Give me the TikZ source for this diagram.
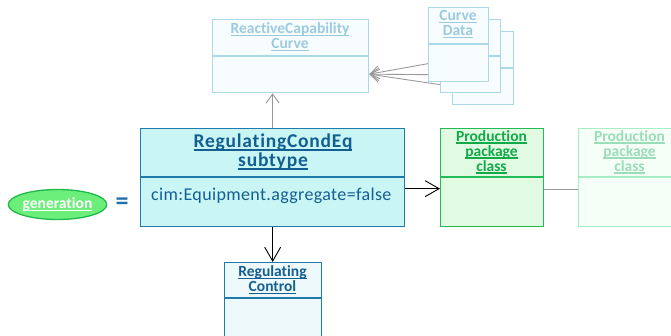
\documentclass[tikz,border=0pt]{standalone}
\usepackage{fontspec}
\setmainfont[Ligatures=NoCommon]{Carlito}
\newfontfamily\bigfont[LetterSpace=4,Ligatures=NoCommon]{Carlito}
\newfontfamily\attrfont[LetterSpace=2,Ligatures=NoCommon]{Carlito}
\usetikzlibrary{arrows.meta,shapes.geometric}
\newcommand\myul[1]{\leavevmode\setbox0=\hbox{#1}\rlap{\rule[-0.17em]{\wd0}{0.085em}}\box0}
\definecolor{rceFill}{HTML}{C9F5F5}
\definecolor{rceLine}{HTML}{1F7BAA}
\definecolor{rceText}{HTML}{135F92}
\definecolor{rconFill}{HTML}{EEF9FC}
\definecolor{fadeLine}{HTML}{A9D8E8}
\definecolor{fadeText}{HTML}{9CCBE0}
\definecolor{fadeFill}{HTML}{F7FCFE}
\definecolor{prodLine}{HTML}{22BB55}
\definecolor{prodFill}{HTML}{E1FBE3}
\definecolor{prodText}{HTML}{12A948}
\definecolor{pfLine}{HTML}{A6EEC6}
\definecolor{pfText}{HTML}{9ADDB8}
\definecolor{pfFill}{HTML}{F5FFF8}
\definecolor{genFill}{HTML}{6CEF7A}
\definecolor{genLine}{HTML}{1FB84A}
\definecolor{eqCol}{HTML}{1F6FA8}
\definecolor{arrGray}{HTML}{999999}
\tikzset{
  umlbox/.style={draw, rectangle, anchor=north west, inner sep=0pt, line width=1.3pt},
  hdr/.style={align=center, inner sep=0pt, font=\bfseries\fontsize{15.5}{15}\selectfont},
  bighdr/.style={align=center, inner sep=0pt, font=\bigfont\bfseries\fontsize{19.5}{19}\selectfont},
  grayarrow/.style={draw=arrGray, line width=0.9pt, -{Straight Barb[length=9pt,width=13pt]}},
  blackarrow/.style={draw=black, line width=0.9pt, -{Straight Barb[length=14pt,width=16pt]}},
}
\begin{document}
\begin{tikzpicture}[x=1pt,y=-1pt]
\useasboundingbox (0,0) rectangle (671,335);
\clip (0,0) rectangle (671,335);

% ReactiveCapability Curve
\node[umlbox, draw=fadeLine, fill=fadeFill, minimum width=156pt, minimum height=73pt] (rcc) at (212,19) {};
\draw[fadeLine, line width=1.3pt] (212,56) -- (368,56);
\node[hdr, text=fadeText] (rcct) at (290,37) {\myul{ReactiveCapability}\\\myul{Curve}};

% Curve Data stack
\node[umlbox, draw=fadeLine, fill=fadeFill, minimum width=61pt, minimum height=73pt] (cd3) at (452,31) {};
\draw[fadeLine, line width=1.3pt] (452,68) -- (513,68);
\node[umlbox, draw=fadeLine, fill=fadeFill, minimum width=60pt, minimum height=73pt] (cd2) at (440,19) {};
\draw[fadeLine, line width=1.3pt] (440,56) -- (500,56);
\node[umlbox, draw=fadeLine, fill=fadeFill, minimum width=60pt, minimum height=74pt] (cd1) at (428,7) {};
\draw[fadeLine, line width=1.3pt] (428,44) -- (488,44);
\node[hdr, text=fadeText] (cd1t) at (458,24) {\myul{Curve}\\\myul{Data}};

\draw[grayarrow] ([yshift=-19pt]cd1.west) -- ([yshift=-18pt]rcc.east);
\draw[grayarrow] ([yshift=-30pt]cd1.west) -- ([yshift=-18pt]rcc.east);
\draw[grayarrow] ([yshift=-28.5pt]cd2.west) -- ([yshift=-18pt]rcc.east);

% RegulatingCondEq subtype
\node[umlbox, draw=rceLine, fill=rceFill, minimum width=264pt, minimum height=98pt] (rce) at (140,128) {};
\draw[rceLine, line width=1.3pt] (140,177) -- (404,177);
\node[bighdr, text=rceText] (rcet) at (273,152) {\myul{RegulatingCondEq}\\\myul{subtype}};
\node[anchor=west, inner sep=0pt, text=rceText, font=\attrfont\fontsize{18}{20}\selectfont] (attr) at (151,196) {cim:Equipment.aggregate=false};

% Production package class
\node[umlbox, draw=prodLine, fill=prodFill, minimum width=103pt, minimum height=98pt] (prod) at (440,128) {};
\draw[prodLine, line width=1.3pt] (440,177) -- (543,177);
\node[hdr, text=prodText] (prodt) at (491.5,152) {\myul{Production}\\\myul{package}\\\myul{class}};

\node[umlbox, draw=pfLine, fill=pfFill, minimum width=103pt, minimum height=98pt] (prod2) at (578,128) {};
\draw[pfLine, line width=1.3pt] (578,177) -- (681,177);
\node[hdr, text=pfText] (prod2t) at (629.5,152) {\myul{Production}\\\myul{package}\\\myul{class}};

% Regulating Control
\node[umlbox, draw=rceLine, fill=rconFill, minimum width=97pt, minimum height=90pt] (rcon) at (224,262) {};
\draw[rceLine, line width=1.3pt] (224,298) -- (321,298);
\node[hdr, text=rceText] (rcont) at (272.5,280) {\myul{Regulating}\\\myul{Control}};

% generation
\node[ellipse, draw=genLine, fill=genFill, line width=1.3pt, minimum width=98pt, minimum height=30pt, inner sep=0pt, text=white, font=\bfseries\fontsize{15.5}{15}\selectfont] (gen) at (57.5,204.5) {\myul{generation}};
\node[text=eqCol, font=\bfseries\fontsize{26}{26}\selectfont, inner sep=0pt] (eq) at (122,204) {=};

% connectors
\draw[grayarrow] (rce.north) -- (rcc.south -| rce.north);
\draw[blackarrow] (rce.south) -- (rcon.north -| rce.south);
\draw[blackarrow] ([yshift=-11pt]rce.east) -- ([yshift=-11pt]prod.west);
\draw[arrGray, line width=0.9pt] ([yshift=-12pt]prod.east) -- ([yshift=-12pt]prod2.west);
\end{tikzpicture}
\end{document}
